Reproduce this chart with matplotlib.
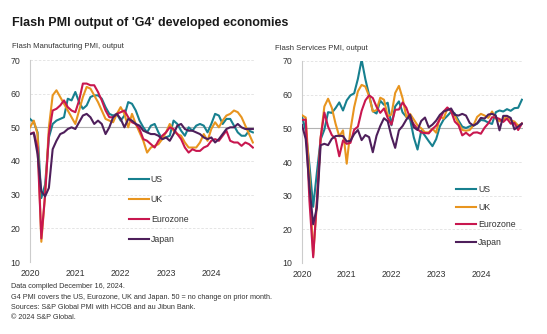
import numpy as np
import matplotlib.pyplot as plt

plt.rcParams['font.family'] = ['Liberation Sans', 'DejaVu Sans']

# months Jan 2020 .. Dec 2024
years = ['2020', '2021', '2022', '2023', '2024']
series = ['US', 'UK', 'Eurozone', 'Japan']
colors = ['#17808f', '#e8951f', '#c8174f', '#4e1f5b']

mfg_us = [52.5, 51.5, 48.5, 29, 33, 47, 51, 52, 52.5, 53, 58.5, 58,
          60.5, 57.5, 55.5, 56.5, 59, 59.5, 59.5, 58.5, 56, 54, 53.5, 54,
          52, 53.5, 57.5, 57, 55, 52, 50, 48.5, 50.5, 51, 48.5, 46.5,
          47, 47.5, 52, 51, 49, 47.5, 50, 49, 50.5, 51, 50.5, 48.5,
          51, 54, 53.5, 51, 52.5, 52.5, 50.5, 48.5, 47.5, 47.5, 49, 48.5]
mfg_uk = [50, 52, 48, 16, 30, 50, 59.5, 61, 59, 57, 55, 53,
          51, 55, 59, 62, 61.5, 59.5, 57.5, 55, 52.5, 52, 51.5, 54,
          56, 54, 50, 54, 51, 48.5, 46, 42.5, 44, 44.5, 45, 46.5,
          48.5, 51, 49, 48, 47.5, 45.5, 44, 44, 44, 45.5, 48, 46,
          49.5, 51.5, 50, 52, 53.5, 54, 55, 54.5, 53, 50.5, 48, 45.5]
mfg_ez = [48, 48.5, 44, 17, 30, 48, 55, 55.5, 56.5, 58, 56, 55,
          54.5, 58, 63, 63, 62.5, 62.5, 60.5, 58, 55, 53, 53, 54,
          54.5, 55, 53, 51.5, 51, 49.5, 46.5, 46, 45, 44, 46, 47.5,
          48.5, 50, 49.5, 48, 46.5, 44, 42.5, 43.5, 43, 43, 44, 44.5,
          46, 46.5, 46, 47.5, 49, 46, 45.5, 45.5, 44.5, 45.5, 45, 44]
mfg_jp = [48, 48.3, 42, 31, 29.5, 32, 43.5, 46, 48, 48.5, 49.5, 50,
          49.5, 51.5, 53.5, 54, 53, 51, 52, 51, 48, 50, 53, 54,
          52.5, 50, 52.5, 52, 51, 50.5, 49, 48.5, 48, 48, 47.5, 46.5,
          47, 46, 48, 50.5, 51, 49.5, 49, 49, 48.5, 48, 47, 46.5,
          47, 45.5, 46.5, 48, 49.5, 50, 50, 51, 50, 49.5, 49.5, 49.5]

svc_us = [53.5, 49.4, 39.1, 26.7, 36.9, 46.7, 49.6, 54.8, 54.6, 56.0, 57.7, 55.3,
          58.3, 59.8, 60.4, 64.7, 70.4, 64.6, 59.9, 55.1, 54.4, 58.2, 57.0, 57.6,
          50.9, 56.5, 58.0, 54.7, 53.4, 52.7, 47.3, 43.7, 49.3, 47.8, 46.2, 44.7,
          46.8, 50.6, 52.6, 53.7, 54.9, 54.4, 52.3, 50.5, 50.1, 50.6, 50.8, 51.4,
          52.5, 52.3, 51.7, 51.3, 54.8, 55.3, 55.0, 55.7, 55.2, 56.0, 56.1, 58.5]
svc_uk = [53.9, 53.2, 35.7, 12.3, 27.8, 47.1, 56.5, 58.8, 56.1, 51.4, 47.6, 49.4,
          39.5, 49.5, 56.3, 61.0, 62.9, 62.4, 59.6, 55.0, 55.4, 59.1, 58.5, 53.6,
          54.1, 60.5, 62.6, 58.9, 53.4, 54.3, 52.6, 50.9, 50.0, 48.8, 48.8, 49.9,
          48.7, 53.5, 52.9, 55.9, 55.2, 53.7, 51.5, 49.5, 49.3, 49.5, 50.9, 53.4,
          54.3, 53.8, 53.1, 55.0, 52.9, 52.1, 52.5, 53.7, 52.4, 52.0, 50.8, 51.4]
svc_ez = [52.5, 52.6, 28.4, 11.7, 28.7, 47.3, 54.7, 50.5, 48.0, 46.9, 41.7, 46.4,
          45.4, 45.7, 49.6, 50.5, 55.2, 58.3, 59.8, 59.0, 56.4, 54.6, 55.9, 53.1,
          51.1, 55.5, 55.6, 57.7, 56.1, 53.0, 51.2, 49.8, 48.8, 48.6, 48.5, 49.8,
          50.8, 52.7, 55.0, 56.2, 55.1, 52.0, 50.9, 47.9, 48.7, 47.8, 48.7, 48.8,
          48.4, 50.2, 51.5, 53.3, 53.2, 52.8, 51.9, 52.9, 51.4, 51.6, 49.5, 51.4]
svc_jp = [51.0, 46.8, 32.7, 21.5, 26.5, 45.0, 45.4, 45.0, 46.9, 47.7, 47.8, 47.7,
          46.1, 46.3, 48.3, 49.5, 46.5, 48.0, 47.4, 42.9, 47.8, 50.7, 53.0, 52.1,
          47.6, 44.2, 49.4, 50.7, 52.6, 54.0, 50.3, 49.5, 52.2, 53.2, 50.3, 51.1,
          52.3, 54.0, 55.0, 55.4, 55.9, 54.0, 53.8, 54.3, 53.8, 51.6, 50.8, 51.5,
          53.1, 52.9, 54.1, 54.3, 53.8, 49.4, 53.7, 53.7, 53.1, 49.7, 50.5, 51.4]

months = np.arange(len(mfg_us))

fig = plt.figure(figsize=(5.47, 3.34), dpi=100)
ax1 = fig.add_axes([30/547, 72/334, 224/547, 202/334])
ax2 = fig.add_axes([302/547, 71/334, 221/547, 202/334])


def panel(ax, data, leg_anchor, spacing):
    for y in range(10, 80, 10):
        if y == 50:
            ax.axhline(y, color='#b3b3b3', lw=0.8, zorder=1)
        else:
            ax.axhline(y, color='#e0e0e0', lw=0.6, ls=(0, (3, 2)), zorder=1)
    for vals, name, c in zip(data, series, colors):
        ax.plot(months, vals, color=c, lw=1.5, label=name, zorder=3,
                solid_joinstyle='round')
    ax.set_xlim(0, 59.3)
    ax.set_ylim(10, 70)
    ax.set_yticks(range(10, 80, 10))
    ax.set_xticks(range(0, 60, 12))
    ax.set_xticklabels(years)
    for s in ['top', 'right', 'bottom']:
        ax.spines[s].set_visible(False)
    ax.spines['left'].set_color('#cccccc')
    ax.spines['left'].set_linewidth(0.8)
    ax.tick_params(length=0, labelsize=6.3, colors='#333333')
    ax.tick_params(axis='y', pad=7)
    ax.tick_params(axis='x', pad=5)
    ax.legend(loc='upper left', bbox_to_anchor=leg_anchor, frameon=False,
              fontsize=6.3, handlelength=2.3, handletextpad=0.25,
              labelspacing=spacing, borderpad=0, borderaxespad=0,
              labelcolor='#333333')


panel(ax1, [mfg_us, mfg_uk, mfg_ez, mfg_jp], (0.44, 0.43), 1.25)
panel(ax2, [svc_us, svc_uk, svc_ez, svc_jp], (0.695, 0.385), 0.98)

fig.text(12/547, 1 - 23/334, "Flash PMI output of 'G4' developed economies",
         fontsize=9, fontweight='bold', color='#1a1a1a', va='center')
fig.text(12/547, 1 - 47/334, 'Flash Manufacturing PMI, output',
         fontsize=5.6, color='#333333', va='center')
fig.text(275/547, 1 - 49/334, 'Flash Services PMI, output',
         fontsize=5.6, color='#333333', va='center')

notes = ['Data compiled December 16, 2024.',
         'G4 PMI covers the US, Eurozone, UK and Japan. 50 = no change on prior month.',
         'Sources: S&P Global PMI with HCOB and au Jibun Bank.',
         '\u00a9 2024 S&P Global.']
for i, t in enumerate(notes):
    fig.text(11/547, 1 - (287 + 10.3*i)/334, t, fontsize=5.2,
             color='#333333', va='center')

fig.savefig('out.png', dpi=100)
